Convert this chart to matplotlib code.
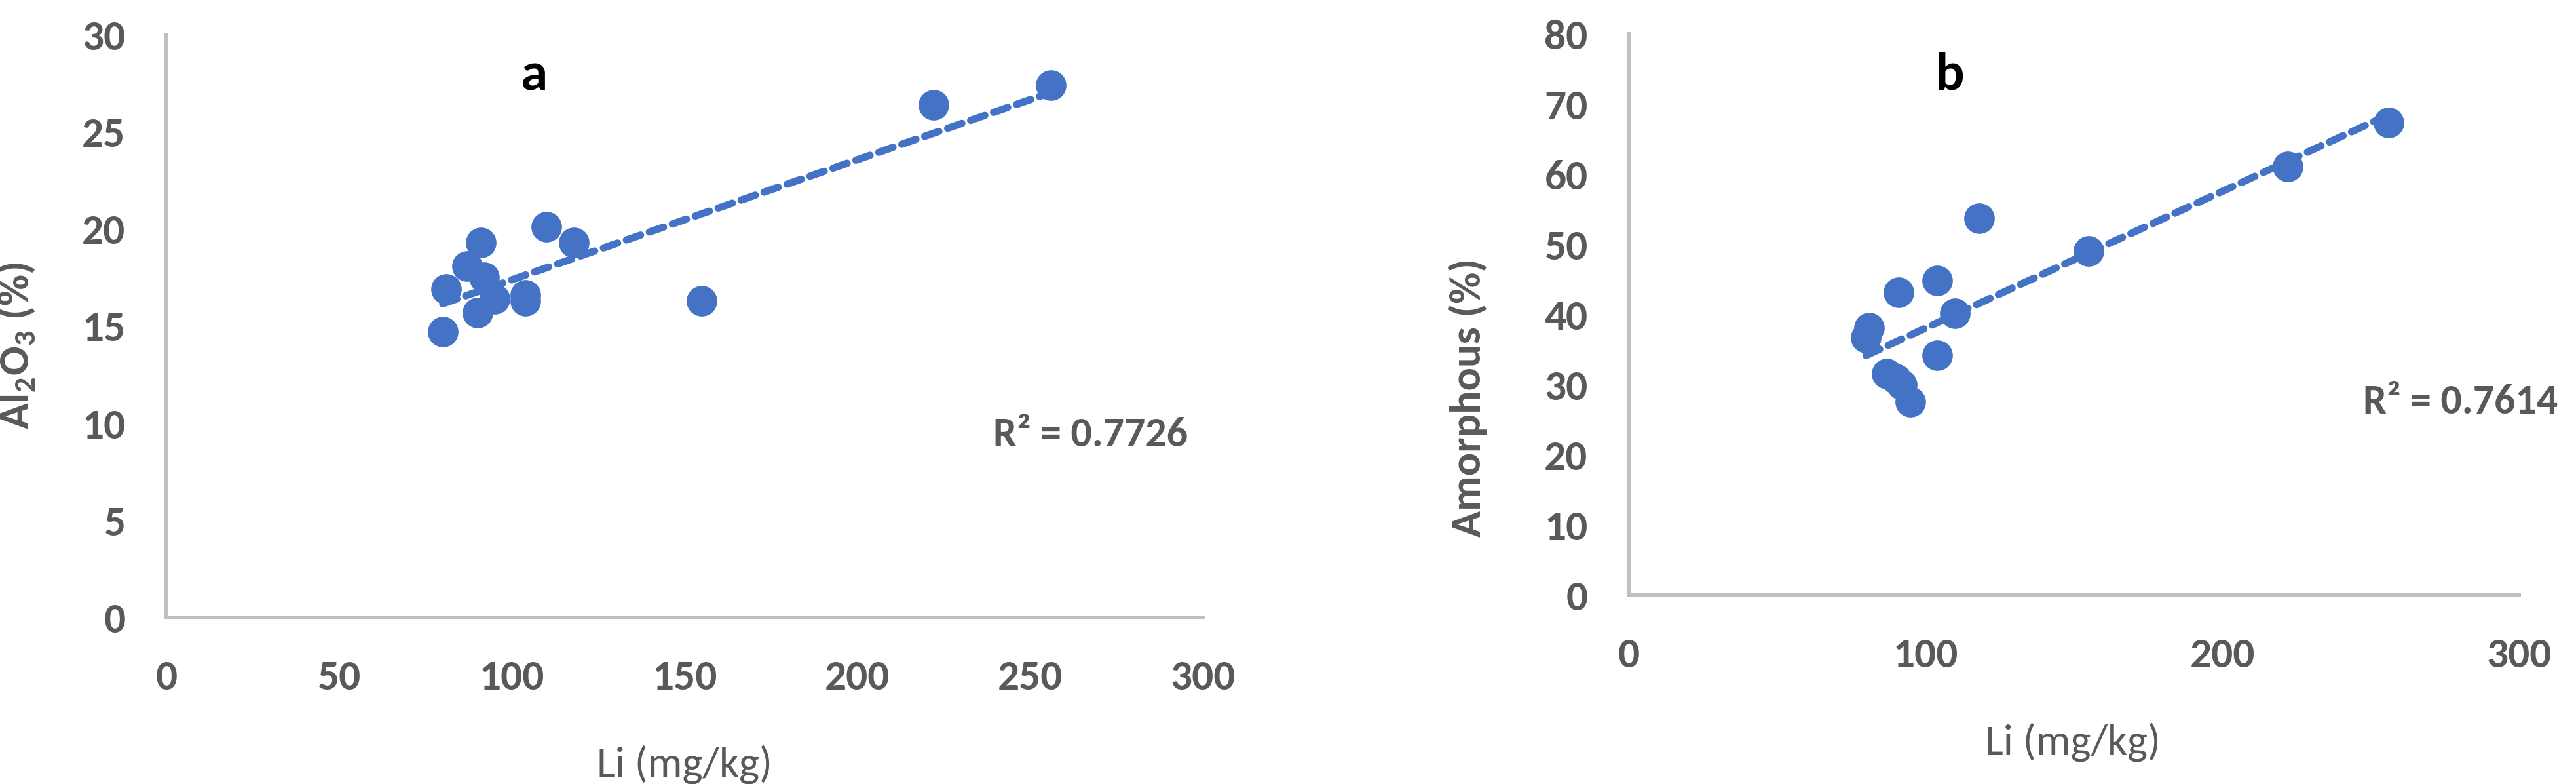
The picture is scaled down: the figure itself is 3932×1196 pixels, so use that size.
import numpy as np
import matplotlib
matplotlib.use('Agg')
import matplotlib.pyplot as plt

# dados
li = [80, 81, 87, 90, 91, 92, 95, 104, 104, 110, 118, 155, 222, 256]
al2o3 = [14.7, 16.9, 18.1, 15.7, 19.3, 17.5, 16.4, 16.6, 16.3, 20.1, 19.3, 16.3, 26.4, 27.4]
amorfo = [36.7, 38.1, 31.6, 30.8, 43.2, 30.0, 27.6, 44.9, 34.2, 40.2, 53.7, 49.1, 61.1, 67.4]

xticks = [0, 50, 100, 150, 200, 250, 300]
xticks_b = [0, 100, 200, 300]
yticks_a = [0, 5, 10, 15, 20, 25, 30]
yticks_b = [0, 10, 20, 30, 40, 50, 60, 70, 80]

r2_a = 'R² = 0.7726'
r2_b = 'R² = 0.7614'

azul = '#4472C4'
cinza = '#595959'


def painel(ax, x, y, xt, yt, ylabel, letra, r2, pos_r2, pos_xl, pos_yl, pos_letra):
    ax.plot(x, y, 'o', color=azul, ms=33.6, mew=0, zorder=3)

    # linha de tendencia linear
    a, b = np.polyfit(x, y, 1)
    xs = np.array([min(x), max(x)])
    ax.plot(xs, a * xs + b, color=azul, lw=8, ls=(0, (16.5, 10.2)),
            dash_capstyle='round', zorder=4)

    ax.set_xlim(xt[0], xt[-1])
    ax.set_ylim(yt[0], yt[-1])
    ax.set_xticks(xt)
    ax.set_yticks(yt)
    for s in ['top', 'right']:
        ax.spines[s].set_visible(False)
    for s in ['left', 'bottom']:
        ax.spines[s].set_color('#BFBFBF')
        ax.spines[s].set_linewidth(4.3)
    ax.tick_params(length=0, labelsize=47, labelcolor=cinza)
    ax.tick_params(axis='x', pad=46)
    ax.tick_params(axis='y', pad=45)
    for lb in ax.get_xticklabels() + ax.get_yticklabels():
        lb.set_fontweight('bold')

    ax.set_xlabel('Li (mg/kg)', fontsize=47.5, color=cinza)
    ax.xaxis.set_label_coords(*pos_xl)
    ax.set_ylabel(ylabel, fontsize=47.5, color=cinza, fontweight='bold')
    ax.yaxis.set_label_coords(*pos_yl)

    ax.text(*pos_letra, letra, transform=ax.transAxes, fontsize=60,
            fontweight='bold', color='black', ha='center', va='center')
    ax.text(*pos_r2, r2, transform=ax.transAxes, fontsize=46,
            fontweight='bold', color=cinza, ha='left', va='center')


def main():
    plt.rcParams['font.family'] = ['Carlito', 'Lato', 'DejaVu Sans']
    plt.rcParams['mathtext.fontset'] = 'custom'
    plt.rcParams['mathtext.rm'] = 'Carlito:bold'
    plt.rcParams['mathtext.bf'] = 'Carlito:bold'
    plt.rcParams['lines.scale_dashes'] = False

    fig = plt.figure(figsize=(39.32, 11.96), dpi=100)
    ax1 = fig.add_axes([254 / 3932, 1 - 942 / 1196, 1582 / 3932, 889 / 1196])
    ax2 = fig.add_axes([2486 / 3932, 1 - 908 / 1196, 1359 / 3932, 856 / 1196])

    painel(ax1, li, al2o3, xticks, yticks_a, r'Al$_\mathregular{2}$O$_\mathregular{3}$ (%)', 'a', r2_a,
           (0.798, 0.314), (0.5, -0.219), (-0.1245, 0.4657), (0.355, 0.930))
    painel(ax2, li, amorfo, xticks_b, yticks_b, 'Amorphous (%)', 'b', r2_b,
           (0.825, 0.3446), (0.499, -0.2266), (-0.158, 0.3528), (0.361, 0.9276))

    fig.savefig('out.png', dpi=100, facecolor='white')


if __name__ == "__main__":
    main()
